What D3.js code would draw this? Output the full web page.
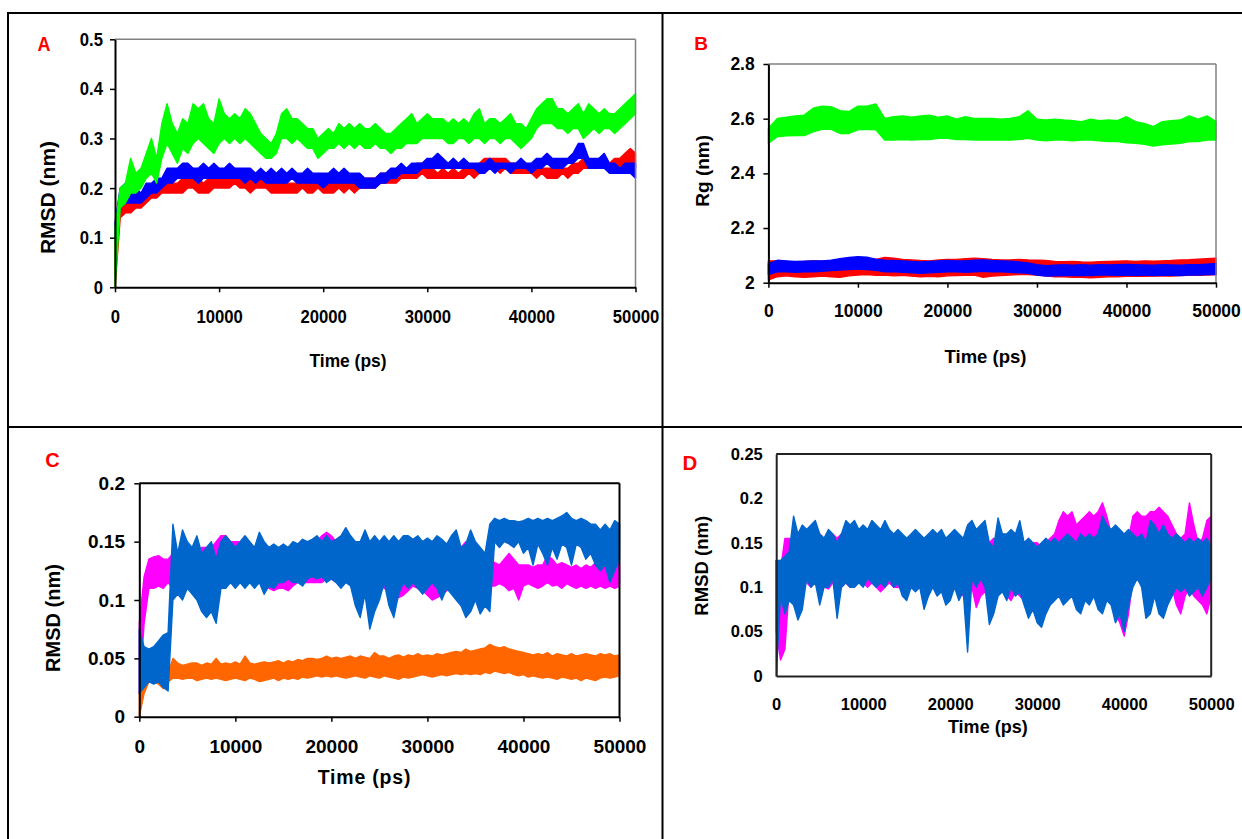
<!DOCTYPE html>
<html><head><meta charset="utf-8">
<script src="https://cdn.jsdelivr.net/npm/d3@7"></script>
<style>
html,body{margin:0;padding:0;background:#fff;overflow:hidden}
svg{display:block}
text{font-family:"Liberation Sans",Arial,Helvetica,sans-serif;font-weight:bold}
</style>
</head><body>
<svg id="chart" width="1242" height="839"></svg>
<script>
// ---------- time grids ----------
const t500 = d3.range(0, 50001, 500);
const t1000 = d3.range(0, 50001, 1000);

// ---------- tick labels ----------
const xTickValues = [0, 10000, 20000, 30000, 40000, 50000];
const xTickLabels = ['0', '10000', '20000', '30000', '40000', '50000'];
const aYTicks = [0, 0.1, 0.2, 0.3, 0.4, 0.5];
const aYLabels = ['0', '0.1', '0.2', '0.3', '0.4', '0.5'];
const bYTicks = [2, 2.2, 2.4, 2.6, 2.8];
const bYLabels = ['2', '2.2', '2.4', '2.6', '2.8'];
const cYTicks = [0, 0.05, 0.1, 0.15, 0.2];
const cYLabels = ['0', '0.05', '0.1', '0.15', '0.2'];
const dYTicks = [0, 0.05, 0.1, 0.15, 0.2, 0.25];
const dYLabels = ['0', '0.05', '0.1', '0.15', '0.2', '0.25'];

// ---------- Panel A : RMSD (nm), band low / high every 500 ps ----------
const aRedLo = [0,0.14,0.15,0.15,0.16,0.16,0.17,0.18,0.18,0.19,
0.19,0.19,0.19,0.19,0.20,0.20,0.19,0.19,0.19,0.20,
0.20,0.20,0.20,0.21,0.20,0.20,0.19,0.20,0.20,0.20,
0.19,0.19,0.19,0.19,0.19,0.19,0.20,0.19,0.19,0.20,
0.19,0.19,0.19,0.20,0.19,0.20,0.19,0.20,0.20,0.20,
0.20,0.21,0.21,0.21,0.21,0.22,0.22,0.22,0.22,0.23,
0.22,0.22,0.22,0.22,0.22,0.22,0.22,0.22,0.23,0.22,
0.23,0.23,0.24,0.24,0.23,0.24,0.23,0.23,0.23,0.23,
0.23,0.22,0.23,0.22,0.22,0.22,0.23,0.22,0.23,0.23,
0.24,0.24,0.24,0.24,0.24,0.24,0.24,0.24,0.25,0.25,
0.24];
const aRedHi = [0.11,0.17,0.17,0.18,0.18,0.19,0.19,0.20,0.20,0.21,
0.22,0.21,0.21,0.22,0.22,0.22,0.22,0.21,0.22,0.22,
0.22,0.23,0.23,0.24,0.23,0.22,0.22,0.22,0.22,0.22,
0.22,0.21,0.22,0.21,0.21,0.21,0.22,0.21,0.21,0.22,
0.21,0.21,0.22,0.21,0.21,0.22,0.21,0.22,0.22,0.22,
0.22,0.23,0.23,0.23,0.23,0.24,0.24,0.24,0.25,0.25,
0.24,0.24,0.23,0.24,0.23,0.24,0.23,0.24,0.24,0.24,
0.25,0.26,0.26,0.26,0.26,0.26,0.25,0.25,0.24,0.25,
0.24,0.24,0.24,0.24,0.24,0.24,0.24,0.24,0.25,0.25,
0.26,0.26,0.25,0.26,0.26,0.25,0.26,0.26,0.27,0.28,
0.27];
const aBlueLo = [0.09,0.16,0.17,0.17,0.17,0.17,0.18,0.19,0.19,0.20,
0.21,0.21,0.22,0.22,0.22,0.22,0.21,0.22,0.22,0.22,
0.22,0.22,0.22,0.22,0.22,0.21,0.22,0.21,0.22,0.21,
0.21,0.21,0.21,0.21,0.22,0.21,0.21,0.21,0.21,0.21,
0.20,0.21,0.21,0.21,0.21,0.21,0.21,0.20,0.20,0.20,
0.20,0.21,0.21,0.22,0.22,0.23,0.23,0.23,0.23,0.24,
0.24,0.24,0.24,0.24,0.24,0.24,0.24,0.24,0.24,0.24,
0.23,0.23,0.24,0.23,0.24,0.24,0.23,0.24,0.24,0.24,
0.23,0.24,0.24,0.25,0.24,0.24,0.24,0.25,0.25,0.26,
0.26,0.24,0.24,0.24,0.24,0.23,0.23,0.23,0.23,0.23,
0.22];
const aBlueHi = [0.13,0.20,0.21,0.21,0.20,0.19,0.21,0.21,0.22,0.22,
0.24,0.24,0.24,0.25,0.25,0.24,0.24,0.25,0.24,0.25,
0.24,0.24,0.25,0.24,0.24,0.24,0.24,0.23,0.24,0.23,
0.24,0.23,0.24,0.23,0.24,0.23,0.23,0.24,0.23,0.23,
0.23,0.23,0.24,0.23,0.24,0.23,0.23,0.23,0.22,0.22,
0.22,0.23,0.23,0.24,0.24,0.25,0.24,0.25,0.25,0.25,
0.26,0.26,0.27,0.26,0.25,0.26,0.25,0.26,0.25,0.25,
0.25,0.25,0.26,0.25,0.25,0.25,0.25,0.25,0.26,0.25,
0.25,0.26,0.26,0.27,0.26,0.26,0.26,0.26,0.27,0.29,
0.29,0.26,0.26,0.26,0.27,0.25,0.25,0.24,0.25,0.25,
0.25];
const aGreenLo = [0,0.16,0.17,0.19,0.19,0.20,0.22,0.23,0.21,0.26,
0.29,0.27,0.25,0.28,0.27,0.29,0.30,0.29,0.28,0.27,
0.29,0.30,0.29,0.30,0.29,0.30,0.29,0.28,0.27,0.26,
0.26,0.27,0.30,0.30,0.29,0.30,0.29,0.28,0.28,0.26,
0.27,0.28,0.28,0.29,0.28,0.29,0.28,0.29,0.28,0.28,
0.29,0.28,0.28,0.27,0.28,0.28,0.29,0.29,0.29,0.30,
0.30,0.30,0.30,0.30,0.29,0.29,0.30,0.30,0.29,0.30,
0.30,0.29,0.30,0.30,0.29,0.30,0.30,0.29,0.28,0.29,
0.30,0.32,0.33,0.33,0.33,0.32,0.32,0.31,0.32,0.32,
0.30,0.31,0.32,0.31,0.32,0.32,0.31,0.32,0.33,0.34,
0.35];
const aGreenHi = [0.12,0.20,0.21,0.26,0.23,0.24,0.27,0.30,0.26,0.33,
0.37,0.33,0.31,0.34,0.33,0.37,0.36,0.37,0.34,0.33,
0.38,0.35,0.34,0.35,0.34,0.36,0.35,0.33,0.31,0.30,
0.29,0.31,0.35,0.36,0.34,0.34,0.33,0.32,0.32,0.30,
0.31,0.32,0.31,0.33,0.32,0.33,0.32,0.33,0.32,0.32,
0.33,0.32,0.31,0.31,0.32,0.33,0.34,0.35,0.33,0.34,
0.35,0.34,0.34,0.34,0.33,0.34,0.33,0.34,0.33,0.35,
0.36,0.33,0.34,0.34,0.33,0.34,0.35,0.33,0.33,0.32,
0.34,0.36,0.37,0.38,0.38,0.36,0.36,0.35,0.36,0.37,
0.35,0.37,0.36,0.35,0.36,0.35,0.35,0.36,0.37,0.38,
0.39];

// ---------- Panel B : Rg (nm), band low / high every 1000 ps ----------
const bRedLo = [2.010,2.022,2.025,2.022,2.020,2.022,2.024,2.022,2.020,2.025,
2.028,2.030,2.027,2.028,2.025,2.027,2.024,2.022,2.023,2.022,
2.025,2.026,2.027,2.028,2.020,2.024,2.026,2.028,2.030,2.030,
2.028,2.025,2.022,2.022,2.020,2.020,2.018,2.020,2.022,2.022,
2.023,2.024,2.023,2.024,2.025,2.024,2.026,2.027,2.027,2.028,
2.030];
const bRedHi = [2.080,2.080,2.078,2.077,2.078,2.080,2.079,2.080,2.082,2.083,
2.085,2.086,2.085,2.092,2.090,2.085,2.083,2.081,2.080,2.083,
2.085,2.085,2.088,2.090,2.088,2.085,2.083,2.083,2.085,2.083,
2.082,2.081,2.078,2.077,2.078,2.076,2.075,2.077,2.078,2.079,
2.080,2.078,2.080,2.079,2.080,2.081,2.083,2.084,2.086,2.088,
2.090];
const bBlueLo = [2.030,2.040,2.040,2.038,2.040,2.040,2.042,2.044,2.046,2.048,
2.050,2.048,2.045,2.040,2.040,2.038,2.036,2.034,2.036,2.038,
2.040,2.040,2.038,2.040,2.042,2.040,2.040,2.038,2.036,2.034,
2.028,2.024,2.025,2.026,2.026,2.027,2.026,2.028,2.028,2.027,
2.028,2.026,2.028,2.026,2.027,2.027,2.026,2.028,2.028,2.030,
2.030];
const bBlueHi = [2.070,2.082,2.080,2.078,2.079,2.080,2.080,2.082,2.088,2.092,
2.095,2.093,2.086,2.082,2.081,2.080,2.078,2.076,2.078,2.080,
2.081,2.080,2.080,2.082,2.083,2.081,2.080,2.079,2.076,2.072,
2.066,2.062,2.064,2.066,2.064,2.066,2.064,2.066,2.065,2.066,
2.067,2.066,2.065,2.064,2.066,2.065,2.064,2.066,2.066,2.068,
2.070];
const bGreenLo = [2.510,2.534,2.537,2.538,2.538,2.552,2.561,2.561,2.546,2.546,
2.559,2.561,2.559,2.522,2.522,2.524,2.522,2.524,2.524,2.528,
2.528,2.524,2.524,2.522,2.522,2.522,2.522,2.522,2.524,2.528,
2.522,2.519,2.522,2.522,2.519,2.522,2.522,2.519,2.516,2.516,
2.512,2.510,2.506,2.500,2.504,2.507,2.510,2.516,2.516,2.522,
2.522];
const bGreenHi = [2.565,2.601,2.605,2.610,2.613,2.638,2.646,2.644,2.629,2.626,
2.646,2.646,2.654,2.601,2.607,2.610,2.605,2.610,2.613,2.605,
2.610,2.598,2.607,2.601,2.601,2.601,2.598,2.601,2.607,2.629,
2.598,2.595,2.598,2.595,2.593,2.589,2.598,2.593,2.595,2.593,
2.607,2.589,2.583,2.571,2.589,2.593,2.595,2.610,2.598,2.610,
2.589];

// ---------- Panel C : RMSD (nm), band low / high every 500 ps ----------
const cPinkLo = [0.02,0.08,0.11,0.11,0.112,0.11,0.115,0.11,0.115,0.115,
0.12,0.11,0.115,0.115,0.115,0.12,0.11,0.12,0.12,0.12,
0.115,0.12,0.115,0.12,0.115,0.12,0.115,0.11,0.108,0.11,
0.11,0.108,0.112,0.115,0.115,0.115,0.115,0.115,0.115,0.118,
0.118,0.115,0.115,0.115,0.115,0.115,0.115,0.112,0.115,0.115,
0.112,0.11,0.108,0.1,0.102,0.104,0.108,0.112,0.11,0.108,
0.104,0.1,0.102,0.104,0.108,0.11,0.112,0.112,0.115,0.115,
0.112,0.112,0.112,0.112,0.112,0.114,0.112,0.108,0.11,0.1,
0.112,0.114,0.112,0.11,0.112,0.115,0.112,0.113,0.11,0.114,
0.112,0.11,0.112,0.11,0.112,0.11,0.112,0.11,0.112,0.11,
0.112];
const cPinkHi = [0.08,0.12,0.135,0.137,0.138,0.135,0.135,0.14,0.14,0.145,
0.14,0.145,0.14,0.145,0.145,0.145,0.15,0.155,0.155,0.15,
0.15,0.15,0.15,0.145,0.145,0.145,0.145,0.14,0.14,0.14,
0.14,0.14,0.14,0.145,0.145,0.145,0.15,0.15,0.155,0.158,
0.155,0.15,0.145,0.145,0.145,0.145,0.145,0.145,0.145,0.145,
0.14,0.14,0.14,0.135,0.135,0.135,0.135,0.14,0.14,0.14,
0.14,0.135,0.135,0.135,0.14,0.14,0.14,0.145,0.15,0.148,
0.14,0.14,0.14,0.135,0.132,0.13,0.135,0.14,0.135,0.13,
0.13,0.13,0.128,0.13,0.13,0.138,0.135,0.13,0.132,0.13,
0.128,0.13,0.127,0.13,0.128,0.132,0.13,0.128,0.13,0.132,
0.13];
const cOrangeLo = [0,0.02,0.03,0.03,0.028,0.024,0.03,0.033,0.033,0.032,
0.033,0.033,0.031,0.032,0.033,0.032,0.033,0.032,0.031,0.032,
0.033,0.032,0.031,0.033,0.032,0.030,0.031,0.032,0.033,0.031,
0.033,0.032,0.033,0.032,0.034,0.033,0.034,0.035,0.034,0.035,
0.034,0.035,0.034,0.033,0.034,0.035,0.034,0.033,0.035,0.034,
0.033,0.035,0.034,0.033,0.032,0.034,0.033,0.034,0.035,0.036,
0.035,0.034,0.035,0.036,0.035,0.036,0.037,0.036,0.037,0.036,
0.037,0.036,0.038,0.037,0.039,0.038,0.037,0.038,0.036,0.035,
0.036,0.034,0.035,0.034,0.033,0.034,0.033,0.032,0.034,0.033,
0.032,0.033,0.031,0.033,0.032,0.031,0.033,0.034,0.033,0.034,
0.035];
const cOrangeHi = [0.02,0.034,0.036,0.036,0.036,0.036,0.037,0.05,0.046,0.044,
0.045,0.046,0.046,0.044,0.046,0.045,0.05,0.045,0.046,0.045,
0.047,0.045,0.052,0.046,0.045,0.046,0.047,0.046,0.047,0.048,
0.046,0.048,0.047,0.049,0.048,0.05,0.05,0.049,0.05,0.052,
0.05,0.051,0.05,0.051,0.052,0.05,0.052,0.051,0.05,0.055,
0.052,0.052,0.05,0.052,0.053,0.051,0.053,0.052,0.054,0.052,
0.053,0.052,0.054,0.053,0.054,0.055,0.056,0.055,0.058,0.056,
0.057,0.058,0.059,0.062,0.06,0.059,0.06,0.058,0.057,0.056,
0.055,0.054,0.053,0.054,0.053,0.055,0.052,0.054,0.053,0.052,
0.054,0.052,0.053,0.054,0.053,0.052,0.054,0.053,0.054,0.052,
0.053];
const cBlueLo = [0.02,0.025,0.03,0.028,0.03,0.025,0.022,0.1,0.105,0.1,
0.11,0.105,0.1,0.09,0.085,0.09,0.08,0.11,0.11,0.115,
0.11,0.115,0.11,0.115,0.11,0.115,0.105,0.112,0.11,0.115,
0.115,0.118,0.115,0.115,0.112,0.118,0.12,0.118,0.12,0.115,
0.118,0.115,0.11,0.115,0.112,0.095,0.085,0.105,0.075,0.09,
0.1,0.115,0.095,0.085,0.105,0.115,0.11,0.115,0.11,0.105,
0.11,0.115,0.11,0.1,0.11,0.105,0.1,0.095,0.085,0.09,
0.1,0.088,0.095,0.09,0.15,0.145,0.15,0.148,0.145,0.15,
0.14,0.145,0.13,0.148,0.14,0.13,0.145,0.135,0.148,0.145,
0.13,0.148,0.145,0.135,0.14,0.13,0.125,0.13,0.115,0.125,
0.135];
const cBlueHi = [0.075,0.06,0.058,0.06,0.065,0.07,0.072,0.165,0.14,0.16,
0.15,0.145,0.155,0.14,0.145,0.15,0.135,0.15,0.155,0.15,
0.145,0.15,0.155,0.15,0.145,0.158,0.15,0.145,0.148,0.145,
0.148,0.145,0.15,0.148,0.152,0.15,0.152,0.155,0.15,0.155,
0.15,0.152,0.155,0.162,0.155,0.15,0.15,0.16,0.15,0.155,
0.15,0.155,0.15,0.155,0.15,0.155,0.155,0.152,0.155,0.15,
0.153,0.15,0.155,0.152,0.148,0.155,0.16,0.145,0.148,0.16,
0.15,0.145,0.14,0.165,0.17,0.168,0.17,0.168,0.168,0.167,
0.168,0.17,0.168,0.17,0.168,0.17,0.168,0.17,0.172,0.175,
0.17,0.168,0.17,0.168,0.165,0.165,0.16,0.165,0.16,0.168,
0.165];

// ---------- Panel D : RMSD (nm), band low / high every 500 ps ----------
const dPinkLo = [0.05,0.018,0.03,0.1,0.1,0.1,0.11,0.105,0.1,0.11,
0.1,0.1,0.098,0.105,0.1,0.1,0.105,0.1,0.105,0.11,
0.105,0.1,0.105,0.1,0.095,0.1,0.105,0.1,0.1,0.098,
0.1,0.105,0.1,0.105,0.1,0.098,0.1,0.095,0.1,0.095,
0.1,0.098,0.1,0.09,0.095,0.1,0.077,0.09,0.095,0.09,
0.1,0.095,0.1,0.09,0.085,0.095,0.09,0.085,0.095,0.08,
0.09,0.095,0.1,0.09,0.1,0.11,0.12,0.12,0.115,0.1,
0.11,0.12,0.115,0.11,0.1,0.12,0.11,0.09,0.07,0.06,
0.045,0.07,0.11,0.12,0.115,0.12,0.11,0.12,0.115,0.12,
0.11,0.1,0.08,0.07,0.09,0.1,0.09,0.085,0.08,0.07,
0.09];
const dPinkHi = [0.13,0.12,0.155,0.155,0.15,0.155,0.16,0.16,0.16,0.165,
0.16,0.155,0.16,0.16,0.155,0.16,0.16,0.16,0.155,0.16,
0.155,0.16,0.16,0.155,0.16,0.155,0.16,0.15,0.155,0.15,
0.155,0.15,0.155,0.15,0.155,0.15,0.155,0.15,0.155,0.15,
0.155,0.16,0.155,0.15,0.155,0.16,0.155,0.155,0.15,0.15,
0.155,0.15,0.155,0.15,0.15,0.155,0.15,0.15,0.145,0.15,
0.15,0.145,0.15,0.155,0.16,0.175,0.185,0.18,0.185,0.17,
0.175,0.18,0.185,0.18,0.185,0.195,0.18,0.16,0.15,0.14,
0.13,0.155,0.18,0.185,0.18,0.18,0.185,0.185,0.19,0.185,
0.18,0.17,0.16,0.155,0.16,0.195,0.17,0.15,0.155,0.175,
0.18];
const dBlueLo = [0,0.09,0.07,0.085,0.08,0.063,0.075,0.11,0.1,0.105,
0.08,0.1,0.1,0.11,0.065,0.1,0.105,0.1,0.1,0.105,
0.1,0.11,0.105,0.1,0.105,0.1,0.11,0.1,0.105,0.09,
0.085,0.1,0.095,0.1,0.075,0.09,0.1,0.09,0.095,0.08,
0.085,0.1,0.085,0.095,0.027,0.11,0.1,0.11,0.1,0.058,
0.07,0.09,0.095,0.085,0.1,0.09,0.095,0.08,0.065,0.075,
0.06,0.055,0.07,0.08,0.085,0.09,0.08,0.085,0.09,0.075,
0.07,0.085,0.08,0.09,0.075,0.07,0.085,0.08,0.06,0.07,
0.05,0.08,0.1,0.11,0.1,0.065,0.07,0.09,0.07,0.065,
0.08,0.09,0.1,0.095,0.1,0.09,0.095,0.1,0.09,0.1,
0.11];
const dBlueHi = [0.13,0.13,0.135,0.14,0.18,0.16,0.17,0.165,0.17,0.175,
0.16,0.155,0.165,0.16,0.15,0.16,0.175,0.17,0.175,0.165,
0.17,0.165,0.175,0.17,0.165,0.175,0.165,0.16,0.165,0.16,
0.155,0.16,0.165,0.16,0.155,0.16,0.165,0.16,0.165,0.155,
0.16,0.165,0.16,0.155,0.17,0.175,0.165,0.17,0.175,0.15,
0.145,0.178,0.16,0.16,0.165,0.16,0.175,0.15,0.155,0.15,
0.145,0.15,0.155,0.15,0.155,0.15,0.155,0.16,0.155,0.15,
0.16,0.155,0.16,0.155,0.16,0.18,0.17,0.165,0.17,0.165,
0.16,0.165,0.16,0.155,0.16,0.15,0.175,0.17,0.16,0.17,
0.16,0.155,0.16,0.155,0.15,0.155,0.15,0.155,0.15,0.155,
0.145];

// ---------- drawing ----------
const svg = d3.select('#chart');
svg.append('rect').attr('width', 1242).attr('height', 839).attr('fill', '#fff');

// outer frame of the figure
const frame = svg.append('g').attr('stroke', '#000').attr('stroke-width', 2);
frame.append('line').attr('x1', 8).attr('y1', 13).attr('x2', 1242).attr('y2', 13);
frame.append('line').attr('x1', 8).attr('y1', 12).attr('x2', 8).attr('y2', 839);
frame.append('line').attr('x1', 662.5).attr('y1', 12).attr('x2', 662.5).attr('y2', 839);
frame.append('line').attr('x1', 8).attr('y1', 427).attr('x2', 1242).attr('y2', 427);

function squeeze(sel, f) {
  if (f === 1) return;
  sel.each(function () {
    const w = this.getComputedTextLength();
    this.setAttribute('textLength', (w * f).toFixed(2));
    this.setAttribute('lengthAdjust', 'spacingAndGlyphs');
  });
}

function drawPanel(p) {
  const g = svg.append('g');
  const x = d3.scaleLinear().domain([0, 50000]).range([p.x0, p.x1]);
  const y = d3.scaleLinear().domain(p.yDomain).range([p.yb, p.yt]);

  g.append('rect').attr('x', p.x0).attr('y', p.yt)
    .attr('width', p.x1 - p.x0).attr('height', p.yb - p.yt).attr('fill', '#fff');

  p.series.forEach(s => {
    const rows = s.lo.map((v, i) => ({ t: s.t[i], lo: v, hi: s.hi[i] }));
    const area = d3.area().x(d => x(d.t)).y0(d => y(d.lo)).y1(d => y(d.hi));
    g.append('path').datum(rows).attr('d', area)
      .attr('fill', s.color).attr('stroke', s.color)
      .attr('stroke-width', p.lw).attr('stroke-linejoin', 'round');
  });

  // top & right borders of the plot area
  g.append('line').attr('x1', p.x0).attr('x2', p.x1).attr('y1', p.yt).attr('y2', p.yt)
    .attr('stroke', p.frameColor).attr('stroke-width', p.frameW);
  g.append('line').attr('x1', p.x1).attr('x2', p.x1).attr('y1', p.yt).attr('y2', p.yb)
    .attr('stroke', p.frameColor).attr('stroke-width', p.frameW);

  // y axis
  const ya = g.append('g').attr('transform', `translate(${p.x0},0)`)
    .call(d3.axisLeft(y).tickValues(p.yTicks).tickFormat((d, i) => p.yLabels[i])
      .tickSize(p.tick).tickSizeOuter(0).tickPadding(p.yPad));
  ya.select('.domain').attr('stroke', p.axisColor).attr('stroke-width', 2);
  ya.selectAll('.tick line').attr('stroke', '#000').attr('stroke-width', 1.5);
  const yt = ya.selectAll('.tick text').attr('fill', '#000')
    .style('font-size', p.tickFont + 'px').style('font-weight', 'bold');
  squeeze(yt, p.sq);

  // x axis
  const xa = g.append('g').attr('transform', `translate(0,${p.yb})`)
    .call(d3.axisBottom(x).tickValues(xTickValues).tickFormat((d, i) => xTickLabels[i])
      .tickSize(p.tick).tickSizeOuter(0).tickPadding(p.xPad));
  xa.select('.domain').attr('stroke', p.axisColor).attr('stroke-width', 2);
  xa.selectAll('.tick line').attr('stroke', '#000').attr('stroke-width', 1.5);
  const xt = xa.selectAll('.tick text').attr('fill', '#000')
    .style('font-size', p.tickFont + 'px').style('font-weight', 'bold');
  squeeze(xt, p.sq);

  // axis titles
  const xTitle = g.append('text').attr('x', p.xTitle[0]).attr('y', p.xTitle[1])
    .attr('text-anchor', 'middle').style('font-size', p.xTitle[2] + 'px')
    .style('letter-spacing', (p.xTitle[4] || 0) + 'px').text('Time (ps)');
  squeeze(xTitle, p.xTitle[3]);
  g.append('text').attr('transform', `translate(${p.yTitle[0]},${p.yTitle[1]}) rotate(-90)`)
    .attr('text-anchor', 'middle').style('font-size', p.yTitle[2] + 'px').text(p.yTitleText);

  // panel letter
  const lt = g.append('text').attr('x', p.letter[0]).attr('y', p.letter[1])
    .attr('text-anchor', 'middle').attr('fill', '#ff0000')
    .style('font-size', p.letter[2] + 'px').text(p.letterText);
  squeeze(lt, p.letter[3]);
}

drawPanel({
  x0: 115, x1: 635.5, yt: 39.3, yb: 287.3, yDomain: [0, 0.5],
  yTicks: aYTicks, yLabels: aYLabels, tick: 5, yPad: 7, xPad: 17.6,
  tickFont: 18.5, sq: 0.9, lw: 1.4, frameColor: '#808080', frameW: 1.5, axisColor: '#000',
  series: [
    { t: t500, lo: aRedLo, hi: aRedHi, color: '#ff0000' },
    { t: t500, lo: aBlueLo, hi: aBlueHi, color: '#0000ff' },
    { t: t500, lo: aGreenLo, hi: aGreenHi, color: '#00ff00' }
  ],
  xTitle: [348, 366.7, 18.5, 0.94], yTitle: [54.7, 197.5, 21], yTitleText: 'RMSD (nm)',
  letter: [44, 50.7, 20, 0.9], letterText: 'A'
});

drawPanel({
  x0: 768.4, x1: 1216, yt: 64, yb: 282.7, yDomain: [2, 2.8],
  yTicks: bYTicks, yLabels: bYLabels, tick: 5, yPad: 8.7, xPad: 17.2,
  tickFont: 17.5, sq: 1, lw: 1.4, frameColor: '#808080', frameW: 1.5, axisColor: '#000',
  series: [
    { t: t1000, lo: bRedLo, hi: bRedHi, color: '#ff0000' },
    { t: t1000, lo: bBlueLo, hi: bBlueHi, color: '#0000ff' },
    { t: t1000, lo: bGreenLo, hi: bGreenHi, color: '#00ff00' }
  ],
  xTitle: [985.5, 362.7, 18.5, 1], yTitle: [709, 170.8, 19], yTitleText: 'Rg (nm)',
  letter: [701, 50, 19, 1], letterText: 'B'
});

drawPanel({
  x0: 139.3, x1: 619.5, yt: 483.3, yb: 716.7, yDomain: [0, 0.2],
  yTicks: cYTicks, yLabels: cYLabels, tick: 5, yPad: 9.3, xPad: 18.1,
  tickFont: 19, sq: 1, lw: 1.4, frameColor: '#000', frameW: 2, axisColor: '#000',
  series: [
    { t: t500, lo: cPinkLo, hi: cPinkHi, color: '#ff00ff' },
    { t: t500, lo: cOrangeLo, hi: cOrangeHi, color: '#ff6600' },
    { t: t500, lo: cBlueLo, hi: cBlueHi, color: '#0066cc' }
  ],
  xTitle: [364.5, 784, 19.5, 1, 0.8], yTitle: [60.2, 618, 20], yTitleText: 'RMSD (nm)',
  letter: [52.6, 466.7, 20, 1], letterText: 'C'
});

drawPanel({
  x0: 776.2, x1: 1211.2, yt: 454, yb: 676, yDomain: [0, 0.25],
  yTicks: dYTicks, yLabels: dYLabels, tick: 0, yPad: 13.4, xPad: 21.9,
  tickFont: 16.5, sq: 1, lw: 1.4, frameColor: '#222', frameW: 2, axisColor: '#222',
  series: [
    { t: t500, lo: dPinkLo, hi: dPinkHi, color: '#ff00ff' },
    { t: t500, lo: dBlueLo, hi: dBlueHi, color: '#0066cc' }
  ],
  xTitle: [987.8, 733.3, 18, 1], yTitle: [708.3, 565.8, 18.5], yTitleText: 'RMSD (nm)',
  letter: [690, 470, 20.5, 1], letterText: 'D'
});
</script>
</body></html>
